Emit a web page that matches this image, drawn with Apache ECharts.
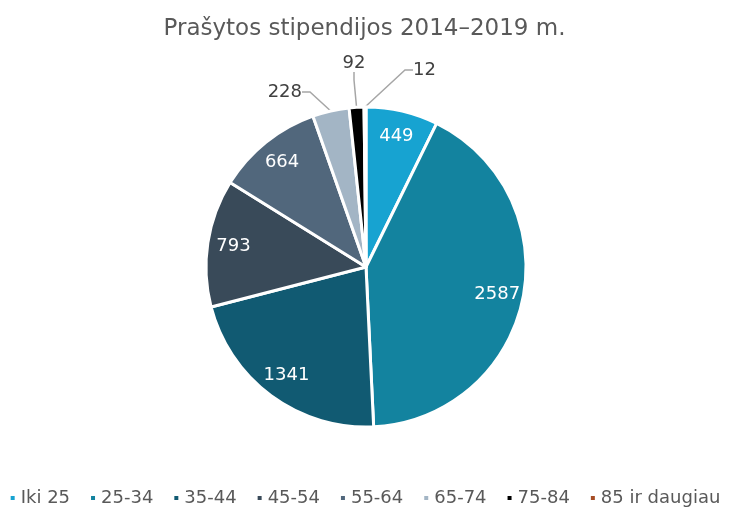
<!DOCTYPE html>
<html>
<head>
<meta charset="utf-8">
<script src="https://cdn.jsdelivr.net/npm/echarts@6/dist/echarts.min.js"></script>
<style>
  html, body { margin: 0; padding: 0; background: #fff; }
  #chart { width: 729px; height: 510px; }
</style>
</head>
<body>
<div id="chart"></div>
<script>
// amžiaus grupės ir stipendijų skaičius
const categories = ["Iki 25", "25-34", "35-44", "45-54", "55-64", "65-74", "75-84", "85 ir daugiau"];
const values = [449, 2587, 1341, 793, 664, 228, 92, 12];
const colors = ["#17a3d1", "#13839f", "#115a72", "#394a59", "#51677c", "#a3b5c5", "#000000", "#a64d25"];
// which slices get the label outside with a leader line
const outsideLabels = ["65-74", "75-84", "85 ir daugiau"];

const cx = 366, cy = 267, R = 160;

// where the outside labels sit, relative to the pie centre
const outsidePlace = {
  "65-74": { dx: -64, dy: -175, align: "right" },
  "75-84": { dx: -12, dy: -204, align: "center" },
  "85 ir daugiau": { dx: 47, dy: -197, align: "left" }
};

const chart = echarts.init(document.getElementById("chart"));

const font = "'DejaVu Sans', sans-serif";

const pieData = categories.map((name, i) => ({
  name: name,
  value: values[i],
  itemStyle: { color: colors[i] },
  label: { show: outsideLabels.includes(name) },
  labelLine: { show: outsideLabels.includes(name) }
}));

// transparent copy, only to put the inner labels farther out
const labelData = categories.map((name, i) => ({
  name: name,
  value: values[i],
  itemStyle: { color: "transparent", borderWidth: 0 },
  label: { show: !outsideLabels.includes(name) }
}));

const option = {
  animation: false,
  color: colors,
  title: {
    text: "Prašytos stipendijos 2014–2019 m.",
    left: "center",
    top: 13,
    textStyle: {
      fontFamily: font,
      fontSize: 23,
      fontWeight: "normal",
      color: "#595959"
    }
  },
  legend: {
    bottom: -2,
    left: "center",
    data: categories,
    icon: "rect",
    itemWidth: 6,
    itemHeight: 6,
    itemGap: 19,
    textStyle: {
      fontFamily: font,
      fontSize: 18,
      color: "#595959"
    }
  },
  series: [
    {
      type: "pie",
      center: [cx, cy],
      radius: [0, R],
      startAngle: 90,
      clockwise: true,
      avoidLabelOverlap: false,
      itemStyle: { borderColor: "#ffffff", borderWidth: 3 },
      label: {
        position: "outside",
        formatter: "{c}",
        fontFamily: font,
        fontSize: 18,
        color: "#404040"
      },
      labelLine: {
        length: 14,
        length2: 8,
        lineStyle: { color: "#a6a6a6", width: 1.5 }
      },
      labelLayout: function (params) {
        const p = outsidePlace[categories[params.dataIndex]];
        if (!p) return {};
        return {
          x: cx + p.dx,
          y: cy + p.dy,
          align: p.align,
          verticalAlign: "middle"
        };
      },
      emphasis: { disabled: true },
      data: pieData
    },
    {
      type: "pie",
      center: [cx, cy],
      radius: [0, 262],
      startAngle: 90,
      clockwise: true,
      silent: true,
      legendHoverLink: false,
      label: {
        position: "inside",
        formatter: "{c}",
        fontFamily: font,
        fontSize: 18,
        color: "#ffffff"
      },
      labelLine: { show: false },
      emphasis: { disabled: true },
      data: labelData
    }
  ]
};

chart.setOption(option);
</script>
</body>
</html>
